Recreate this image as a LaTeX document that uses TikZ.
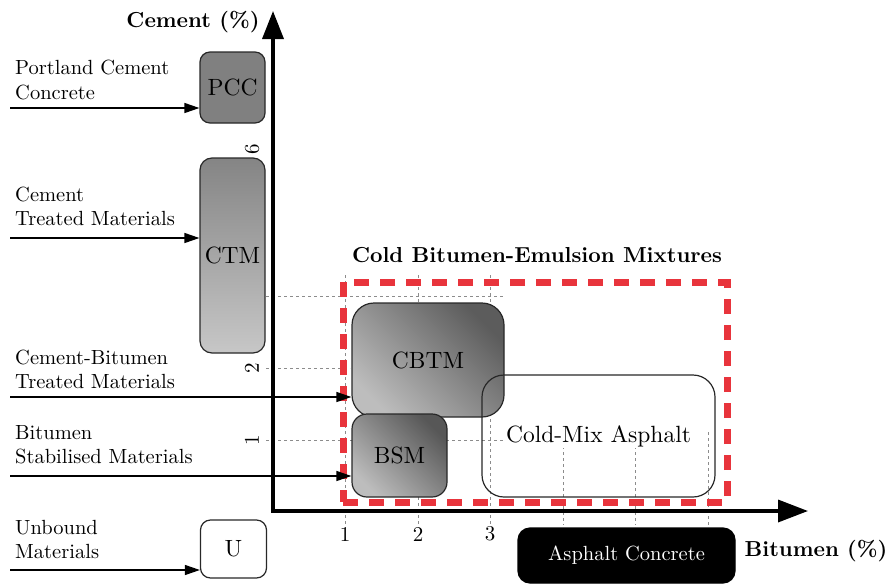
\documentclass[tikz,border=0pt]{standalone}
\usepackage{fontspec}
% one design size at every point size, for an even stroke weight
\setmainfont{lmroman10-regular.otf}[BoldFont=lmroman10-bold.otf]
\usetikzlibrary{arrows.meta}
\definecolor{cbred}{RGB}{232,52,60}
\definecolor{boxedge}{RGB}{40,40,40}
\begin{document}
\begin{tikzpicture}[x=1pt,y=-1pt,
  every node/.style={inner sep=0pt},
  gridline/.style={black!45, line width=0.9pt, dash pattern=on 3pt off 3pt},
  axisline/.style={line width=3.5pt,
    {Triangle[length=28pt,width=21pt]}-{Triangle[length=30pt,width=22pt]}},
  feed/.style={line width=1.2pt, -{Triangle[length=15pt,width=10pt]}},
  matbox/.style={draw=boxedge, line width=1.2pt, font=\fontsize{23.5}{26}\selectfont},
  caption/.style={align=left, anchor=west, font=\fontsize{20.5}{24.5}\selectfont},
  axistitle/.style={font=\bfseries\fontsize{21.7}{26}\selectfont},
  ticklabel/.style={font=\fontsize{21}{23}\selectfont},
  redbox/.style={draw=cbred, line width=7pt, dash pattern=on 15pt off 11pt}
]
\useasboundingbox (0,0) rectangle (892,584);

% grid of percentage levels
\foreach \x in {345,418,490}
  \draw[gridline] (\x,275) -- (\x,525);
\draw[gridline] (563,440) -- (563,525);
\draw[gridline] (635,440) -- (635,525);
\draw[gridline] (708,432) -- (708,525);
\draw[gridline] (266,296) -- (504,296);
\draw[gridline] (266,368) -- (350,368);
\draw[gridline] (266,440) -- (505,440);

% axes
\coordinate (O) at (273,511);
\coordinate (ytop) at (273,11);
\coordinate (xend) at (808,511);
\draw[axisline] (ytop) -- (O) -- (xend);
\node[axistitle] (ylab) at (193,22) {Cement (\%)};
\node[axistitle] (xlab) at (816,551) {Bitumen (\%)};

% tick labels
\node[ticklabel] (bx1) at (345,534) {1};
\node[ticklabel] (bx2) at (418,534) {2};
\node[ticklabel] (bx3) at (490,534) {3};
\node[ticklabel, rotate=90] (cy1) at (252,440) {1};
\node[ticklabel, rotate=90] (cy2) at (252,368) {2};
\node[ticklabel, rotate=90] (cy6) at (252,149) {6};

% cold bitumen-emulsion mixtures region
\node[redbox, minimum width=384pt, minimum height=220pt] (cbem) at (535,392) {};
\node[axistitle] (cbemtitle) at (537,255) {Cold Bitumen-Emulsion Mixtures};

% material boxes
\node[matbox, rounded corners=10pt, minimum width=65pt, minimum height=71pt,
  fill=black!50] (pcc) at (232.5,87.5) {PCC};
\node[matbox, rounded corners=12pt, minimum width=65pt, minimum height=195pt,
  top color=black!48, bottom color=black!22] (ctm) at (232.5,255.5) {CTM};
\node[matbox, rounded corners=22pt, minimum width=152pt, minimum height=114pt,
  top color=black!64, bottom color=black!26, shading angle=-45] (cbtm) at (428,360) {CBTM};
\node[matbox, rounded corners=15pt, minimum width=95pt, minimum height=83pt,
  top color=black!66, bottom color=black!26, shading angle=-45] (bsm) at (399.5,455.5) {BSM};
\node[matbox, rounded corners=22pt, minimum width=233pt, minimum height=122pt,
  label={[fill=white, inner sep=1pt, font=\fontsize{23.5}{26}\selectfont]center:Cold-Mix Asphalt}]
  (cma) at (598.5,436) {};
\node[matbox, rounded corners=10pt, minimum width=66pt, minimum height=58pt,
  fill=white] (u) at (233.5,549) {U};
\node[matbox, draw=black, rounded corners=12pt, minimum width=217pt, minimum height=55pt,
  fill=black, text=white, font=\fontsize{20.5}{24}\selectfont] (ac) at (626.5,555.5) {Asphalt Concrete};

% material classes and their arrows
\node[caption] (pcccap) at (15,80) {Portland Cement\\Concrete};
\node[caption] (ctmcap) at (15,206.5) {Cement\\Treated Materials};
\node[caption] (cbtmcap) at (15,369.5) {Cement-Bitumen\\Treated Materials};
\node[caption] (bsmcap) at (15,444.5) {Bitumen\\Stabilised Materials};
\node[caption] (ucap) at (15,539.5) {Unbound\\Materials};

\coordinate (pccin) at (10,108);
\coordinate (ctmin) at (10,238);
\coordinate (cbtmin) at (10,397);
\coordinate (bsmin) at (10,476);
\coordinate (uin) at (10,570);
\draw[feed] (pccin) -- (pccin -| pcc.west);
\draw[feed] (ctmin) -- (ctmin -| ctm.west);
\draw[feed] (cbtmin) -- (cbtmin -| cbtm.west);
\draw[feed] (bsmin) -- (bsmin -| bsm.west);
\draw[feed] (uin) -- (uin -| u.west);
\end{tikzpicture}
\end{document}
